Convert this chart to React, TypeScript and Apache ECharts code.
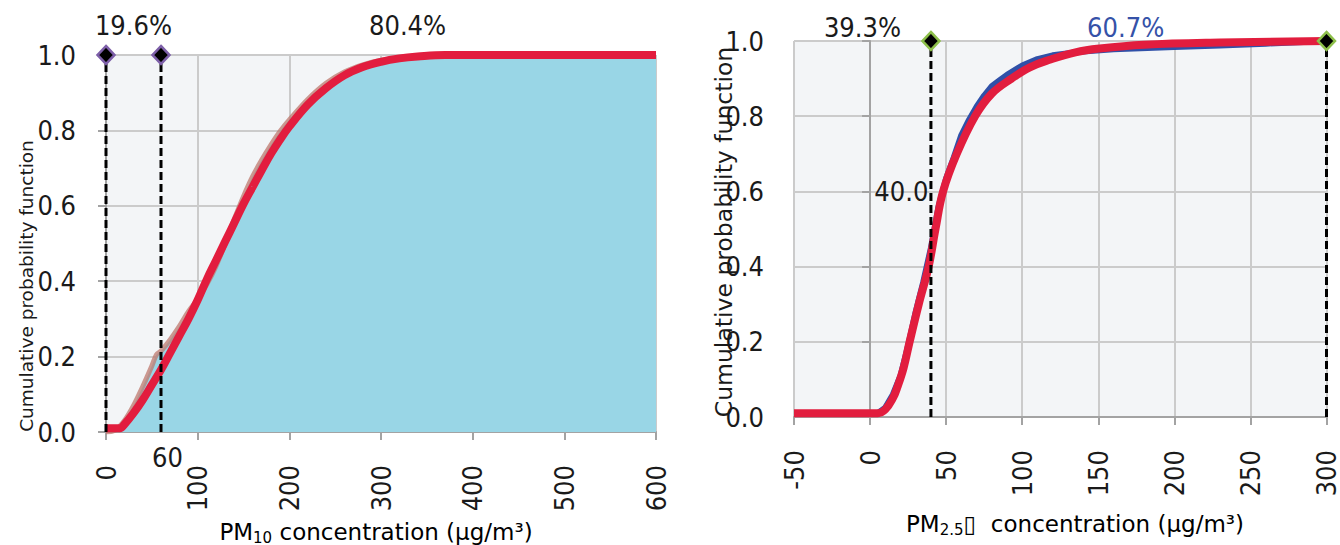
import React, { useEffect, useRef } from "react";
import * as echarts from "echarts";

// PM10 panel
const pm10Fit: [number, number][] = [
  [0, 0.01], [15, 0.01], [20, 0.02], [30, 0.05], [40, 0.085], [50, 0.125], [60, 0.165],
  [70, 0.21], [80, 0.255], [90, 0.3], [100, 0.35], [110, 0.405], [120, 0.455], [130, 0.505],
  [140, 0.555], [150, 0.605], [160, 0.65], [170, 0.695], [180, 0.738], [190, 0.776], [200, 0.81],
  [220, 0.868], [240, 0.912], [260, 0.946], [280, 0.968], [300, 0.982], [320, 0.991], [340, 0.996],
  [370, 1.0], [600, 1.0],
];
const pm10Empirical: [number, number][] = [
  [0, 0.0], [10, 0.005], [20, 0.03], [30, 0.07], [40, 0.12], [50, 0.175], [55, 0.205],
  [60, 0.215], [70, 0.245], [80, 0.28], [90, 0.32], [100, 0.352], [110, 0.392], [120, 0.44],
  [130, 0.5], [140, 0.565], [150, 0.625], [160, 0.678], [170, 0.722], [180, 0.762], [190, 0.798],
  [200, 0.828], [220, 0.882], [240, 0.925], [260, 0.955], [280, 0.974], [300, 0.986], [330, 0.995],
  [370, 1.0], [600, 1.0],
];
const pm10Thresholds = [0, 60];
const pm10Notes = [
  { name: "19.6%", value: [30, 1] },
  { name: "80.4%", value: [329, 1] },
];
const pm10AxisNote = { name: "60", value: [67, 0] };

// PM2.5 panel
const pm25Fit: [number, number][] = [
  [-50, 0.01], [5, 0.01], [10, 0.02], [15, 0.05], [18, 0.08], [22, 0.13], [26, 0.2],
  [32, 0.3], [38.5, 0.4], [43, 0.5], [48, 0.6], [57, 0.7], [69, 0.8], [80, 0.86], [93, 0.9],
  [105, 0.93], [118, 0.95], [135, 0.97], [151, 0.98], [180, 0.99], [230, 0.996], [300, 1.0],
];
const pm25Empirical: [number, number][] = [
  [-50, 0.01], [5, 0.01], [10, 0.025], [15, 0.06], [20, 0.11], [25, 0.19], [30, 0.28],
  [35, 0.36], [40, 0.45], [45, 0.56], [50, 0.635], [55, 0.69], [60, 0.75], [65, 0.79],
  [70, 0.825], [75, 0.855], [80, 0.88], [85, 0.895], [90, 0.91], [100, 0.935], [110, 0.952],
  [120, 0.962], [140, 0.972], [160, 0.978], [200, 0.984], [230, 0.988], [260, 0.993], [300, 1.0],
];
const pm25Thresholds = [40, 300];
const pm25Notes = [
  { name: "39.3%", value: [-5, 1], color: "#1a1a1a" },
  { name: "60.7%", value: [168, 1], color: "#3552a8" },
];
const pm25LineNote = { name: "40.0", value: [40, 0.6] };

const FONT = "'DejaVu Sans Condensed', 'DejaVu Sans', sans-serif";
const TITLE_FONT = "'DejaVu Sans', sans-serif";
const AXIS_GREY = "#a3a3a3";
const GRID_GREY = "#cbcbcb";
const RED = "#e21d3e";
const TEXT = "#1a1a1a";
const TICK_SIZE = 27;

function valueAxisY(gridIndex: number) {
  return {
    type: "value" as const,
    gridIndex,
    min: 0,
    max: 1,
    interval: 0.2,
    axisLine: { show: true, lineStyle: { color: AXIS_GREY, width: 2 } },
    axisTick: { show: true, length: 8, lineStyle: { color: AXIS_GREY, width: 2 } },
    splitLine: { show: true, lineStyle: { color: GRID_GREY, width: 2 } },
    axisLabel: {
      formatter: (v: number) => v.toFixed(1),
      fontSize: TICK_SIZE,
      fontFamily: FONT,
      color: TEXT,
      margin: 30,
    },
  };
}

function valueAxisX(gridIndex: number, min: number, max: number, interval: number) {
  return {
    type: "value" as const,
    gridIndex,
    min,
    max,
    interval,
    axisLine: { show: true, onZero: false, lineStyle: { color: AXIS_GREY, width: 2 } },
    axisTick: { show: true, length: 8, lineStyle: { color: AXIS_GREY, width: 2 } },
    splitLine: { show: true, lineStyle: { color: GRID_GREY, width: 2 } },
    axisLabel: {
      rotate: 90,
      fontSize: TICK_SIZE,
      fontFamily: FONT,
      color: TEXT,
      margin: 33,
    },
  };
}

function dashedLines(xs: number[], idx: number) {
  return xs.map((x) => ({
    type: "line" as const,
    xAxisIndex: idx,
    yAxisIndex: idx,
    data: [[x, 0], [x, 1]],
    symbol: "none",
    clip: false,
    lineStyle: { color: "#000", width: 3, type: [8, 4] },
    z: 5,
  }));
}

const titleRich = {
  n: { fontSize: 23, fontFamily: TITLE_FONT, color: TEXT, lineHeight: 30 },
  s: { fontSize: 15, fontFamily: TITLE_FONT, color: TEXT, lineHeight: 30, verticalAlign: "bottom" as const, padding: [0, 0, 2, 0] },
};

export default function App() {
  const ref = useRef<HTMLDivElement>(null);
  useEffect(() => {
    if (!ref.current) return;
    const chart = echarts.init(ref.current, undefined, { renderer: "svg" });
    const textStyle = { fontSize: TICK_SIZE, fontFamily: FONT, color: TEXT };
    const noteItem = { opacity: 1, color: "transparent" };
    chart.setOption({
      animation: false,
      grid: [
        { left: 106, right: 684, top: 55, bottom: 113, show: true, backgroundColor: "#f3f5f7", borderWidth: 0 },
        { left: 794, right: 11, top: 41, bottom: 128, show: true, backgroundColor: "#f3f5f7", borderWidth: 0 },
      ],
      xAxis: [valueAxisX(0, 0, 600, 100), valueAxisX(1, -50, 300, 50)],
      yAxis: [valueAxisY(0), valueAxisY(1)],
      graphic: [
        {
          type: "text", x: 26, y: 286, rotation: Math.PI / 2,
          style: { text: "Cumulative probability function", fontSize: 18.5, fontFamily: TITLE_FONT, fill: TEXT, align: "center", verticalAlign: "middle" },
        },
        {
          type: "text", x: 724, y: 232, rotation: Math.PI / 2,
          style: { text: "Cumulative probability function", fontSize: 23.5, fontFamily: TITLE_FONT, fill: TEXT, align: "center", verticalAlign: "middle" },
        },
        {
          type: "text", x: 376, y: 532,
          style: {
            text: "{n|PM}{s|10}{n| concentration (\u00b5g/m\u00b3)}",
            rich: titleRich,
            align: "center", verticalAlign: "middle",
          },
        },
        {
          type: "text", x: 1075, y: 524,
          style: {
            text: "{n|PM}{s|2.5}{n|\u25af  concentration (\u00b5g/m\u00b3)}",
            rich: titleRich,
            align: "center", verticalAlign: "middle",
          },
        },
      ],
      series: [
        {
          type: "line",
          xAxisIndex: 0, yAxisIndex: 0,
          data: pm10Empirical,
          symbol: "none",
          smooth: 0.3,
          lineStyle: { color: "rgba(190,120,110,0.75)", width: 5 },
          areaStyle: { color: "#99d6e6", opacity: 1 },
          z: 2,
        },
        {
          type: "line",
          xAxisIndex: 0, yAxisIndex: 0,
          data: pm10Fit,
          symbol: "none",
          smooth: 0.4,
          lineStyle: { color: RED, width: 8 },
          z: 3,
        },
        ...dashedLines(pm10Thresholds, 0),
        {
          type: "scatter",
          xAxisIndex: 0, yAxisIndex: 0,
          data: pm10Thresholds.map((x) => [x, 1]),
          symbol: "diamond",
          symbolSize: [17, 18],
          clip: false,
          itemStyle: { color: "#000", borderColor: "#7d5fa8", borderWidth: 2.5, opacity: 1 },
          z: 6,
        },
        {
          type: "scatter",
          xAxisIndex: 0, yAxisIndex: 0,
          data: pm10Notes,
          symbolSize: 1,
          clip: false,
          itemStyle: noteItem,
          label: { show: true, position: "top", distance: 16, formatter: "{b}", ...textStyle },
          z: 7,
        },
        {
          type: "scatter",
          xAxisIndex: 0, yAxisIndex: 0,
          data: [pm10AxisNote],
          symbolSize: 1,
          clip: false,
          itemStyle: noteItem,
          label: { show: true, position: "bottom", distance: 11, formatter: "{b}", ...textStyle },
          z: 7,
        },
        {
          type: "line",
          xAxisIndex: 1, yAxisIndex: 1,
          data: pm25Empirical,
          symbol: "none",
          lineStyle: { color: "#2f50a8", width: 6 },
          z: 2,
        },
        {
          type: "line",
          xAxisIndex: 1, yAxisIndex: 1,
          data: pm25Fit,
          symbol: "none",
          smooth: 0.4,
          lineStyle: { color: RED, width: 8 },
          z: 3,
        },
        ...dashedLines(pm25Thresholds, 1),
        {
          type: "scatter",
          xAxisIndex: 1, yAxisIndex: 1,
          data: pm25Thresholds.map((x) => [x, 1]),
          symbol: "diamond",
          symbolSize: [17, 18],
          clip: false,
          itemStyle: { color: "#000", borderColor: "#8dbf4a", borderWidth: 2.5, opacity: 1 },
          z: 6,
        },
        {
          type: "scatter",
          xAxisIndex: 1, yAxisIndex: 1,
          data: pm25Notes.map((n) => ({ name: n.name, value: n.value, label: { color: n.color } })),
          symbolSize: 1,
          clip: false,
          itemStyle: noteItem,
          label: { show: true, position: "top", distance: 0, formatter: "{b}", ...textStyle },
          z: 7,
        },
        {
          type: "scatter",
          xAxisIndex: 1, yAxisIndex: 1,
          data: [pm25LineNote],
          symbolSize: 1,
          clip: false,
          itemStyle: noteItem,
          label: { show: true, position: "left", distance: 2, formatter: "{b}", ...textStyle },
          z: 7,
        },
      ],
    });
    return () => chart.dispose();
  }, []);
  return (
    <div
      ref={ref}
      style={{ position: "fixed", left: 0, top: 0, width: 1340, height: 545, background: "#fff" }}
    />
  );
}
